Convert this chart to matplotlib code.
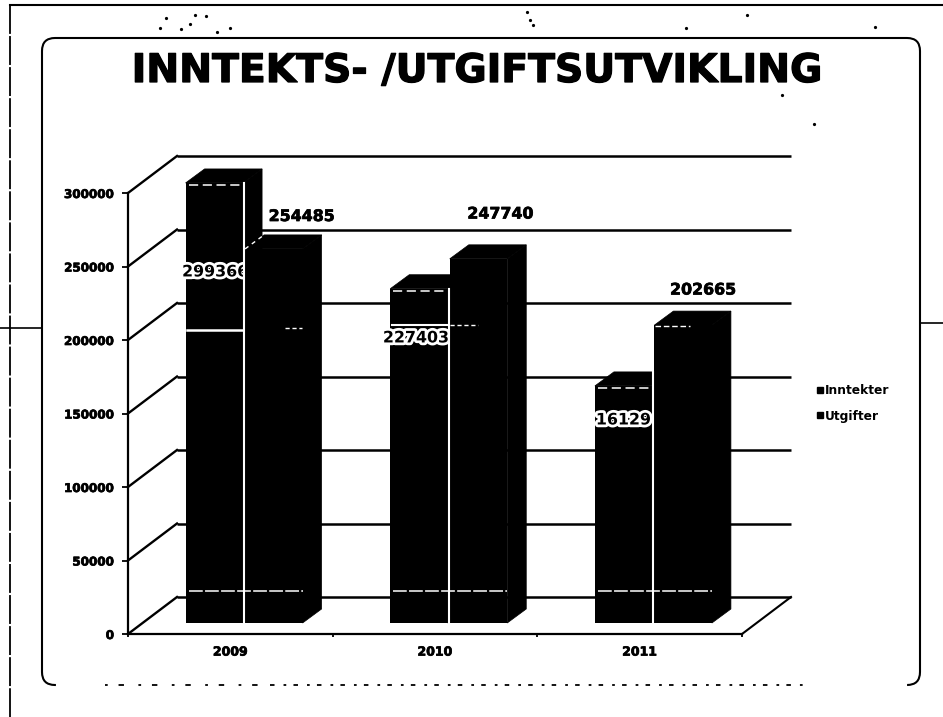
import matplotlib
matplotlib.use("Agg")
import matplotlib.pyplot as plt
import matplotlib.patheffects as pe
from matplotlib.lines import Line2D
from matplotlib.patches import Polygon, FancyBboxPatch
from matplotlib.transforms import Affine2D

# ---- data ----
years = ["2009", "2010", "2011"]
inntekter = [299366, 227403, 161290]
utgifter = [254485, 247740, 202665]
inntekter_labels = ["299366", "227403", "16129"]
utgifter_labels = ["254485", "247740", "202665"]
y_ticks = [0, 50000, 100000, 150000, 200000, 250000, 300000]
series_names = ["Inntekter", "Utgifter"]
title_text = "INNTEKTS- /UTGIFTSUTVIKLING"

# ---- geometry (pixels) ----
W, H = 943, 717
DPI = 100
AX_L, AX_R, AX_T, AX_B = 128, 742, 193, 634
WALL_DX, WALL_DY = 49, 37
BAR_DX, BAR_DY = 19, 14
SX = 3 / (AX_R - AX_L)        # category units per pixel
SY = 300000 / (AX_B - AX_T)   # value units per pixel
BASE = 11 * SY
BAR_W = 57.5 * SX
OFF1, OFF2 = -16 * SX, 43.5 * SX
heavy = [pe.withStroke(linewidth=0.5, foreground="black")]

fig = plt.figure(figsize=(W / DPI, H / DPI), dpi=DPI, facecolor="white")

# ---- pixel overlay for frame and title ----
bg = fig.add_axes([0, 0, 1, 1], zorder=0)
bg.set_xlim(0, W)
bg.set_ylim(H, 0)
bg.axis("off")
bg.add_patch(FancyBboxPatch((42, 38), 878, 647, boxstyle="round,pad=0,rounding_size=13",
                            fc="white", ec="black", lw=1.5))
# broken lower edge of the panel (scan artefact)
bg.plot([58, 905], [685, 685], color="white", lw=3, zorder=3)
bg.plot([105, 265], [685, 685], color="black", lw=1.3, ls=(0, (1.5, 6, 3, 8)), zorder=4)
bg.plot([270, 805], [685, 685], color="black", lw=1.3, ls=(0, (2.5, 5, 1.5, 4)), zorder=4)
bg.plot([10, 10], [5, H], color="black", lw=1.3, ls=(0, (16, 1.2)))
bg.plot([10, W], [5, 5], color="black", lw=1.5)
bg.plot([0, 42], [328, 328], color="black", lw=1.2)
bg.plot([920, W], [323, 323], color="black", lw=1.2)
bg.text(477, 71, title_text, ha="center", va="center", fontsize=28.3,
        fontweight="bold", family="DejaVu Sans", color="black",
        path_effects=[pe.withStroke(linewidth=0.9, foreground="black")])
specks_x = [166, 195, 206, 160, 181, 190, 217, 230, 527, 530, 533, 686, 747, 875, 782, 814]
specks_y = [18, 15, 16, 28, 29, 24, 32, 28, 12, 20, 25, 28, 15, 27, 95, 124]
bg.plot(specks_x, specks_y, ls="none", marker="o", ms=1.3, color="black")

# ---- value axes: front plane of the 3-D box ----
ax = fig.add_axes([AX_L / W, 1 - AX_B / H, (AX_R - AX_L) / W, (AX_B - AX_T) / H],
                  zorder=2)
ax.patch.set_alpha(0)
ax.set_xlim(-0.5, 2.5)
ax.set_ylim(0, 300000)
for s in ("top", "right"):
    ax.spines[s].set_visible(False)
for s in ("left", "bottom"):
    ax.spines[s].set_linewidth(1.6)
ax.set_yticks(y_ticks)
ax.set_xticks([-0.5, 0.5, 1.5, 2.5])
ax.set_xticklabels(["", "", "", ""])
ax.tick_params(axis="y", length=4, width=1.3, direction="out", pad=6)
ax.tick_params(axis="x", length=2, width=1.3)
for t in ax.get_yticklabels():
    t.set_fontweight("bold")
    t.set_fontsize(8.6)
    t.set_path_effects(heavy)
for i, yr in enumerate(years):
    ax.text(i, -12300, yr, ha="center", va="center", fontsize=9, fontweight="bold",
            path_effects=heavy)

# back wall, side wall and floor
wdx, wdy = WALL_DX * SX, WALL_DY * SY
wall = Affine2D().translate(WALL_DX * DPI / 100, WALL_DY * DPI / 100)
ax.hlines(y_ticks, -0.5, 2.5, color="black", lw=1.8, clip_on=False,
          transform=ax.transData + wall, zorder=1)
for v in y_ticks:
    ax.plot([-0.5, -0.5 + wdx], [v, v + wdy], color="black", lw=1.7, clip_on=False, zorder=1)
ax.plot([2.5, 2.5 + wdx], [0, wdy], color="black", lw=1.5, clip_on=False, zorder=1)

ddx, ddy = BAR_DX * SX, BAR_DY * SY


def depth(x, h, z):
    """top and side faces of one bar"""
    l, r = x - BAR_W / 2, x + BAR_W / 2
    t, b = BASE + h, BASE
    ax.add_patch(Polygon([(l, t), (l + ddx, t + ddy), (r + ddx, t + ddy), (r, t)],
                         fc="black", ec="black", lw=0.5, clip_on=False, zorder=z))
    ax.add_patch(Polygon([(r, t), (r + ddx, t + ddy), (r + ddx, b + ddy), (r, b)],
                         fc="black", ec="black", lw=0.5, clip_on=False, zorder=z))


halo = [pe.withStroke(linewidth=4, foreground="white")]
inner_y = [246300, 201400, 145600]
inner_dx = [1 * SX, -3 * SX, 0]
outer_y = [284000, 285700, 234000]
outer_dx = [28 * SX, 22 * SX, 20 * SX]
gap_extra = [0, 0, ddy]

for i in range(3):
    x1, x2 = i + OFF1, i + OFF2
    z = 3 + i * 4
    depth(x1, inntekter[i], z)
    ax.bar(x1, inntekter[i], BAR_W, bottom=BASE, color="black", zorder=z + 0.1, clip_on=False)
    top1 = BASE + inntekter[i]
    l1, r1 = x1 - BAR_W / 2, x1 + BAR_W / 2
    ax.plot([l1 + 3 * SX, r1], [top1 - 2 * SY] * 2, color="white", lw=1.1,
            ls=(0, (6, 3)), zorder=z + 0.2, clip_on=False)
    ax.text(x1 + inner_dx[i], inner_y[i], inntekter_labels[i], ha="center", va="center",
            fontsize=11.4, fontweight="bold", path_effects=halo, zorder=z + 0.3, clip_on=False)
    depth(x2, utgifter[i], z + 0.5)
    ax.bar(x2, utgifter[i], BAR_W, bottom=BASE, color="black", zorder=z + 0.6, clip_on=False)
    gap = (r1 + x2 - BAR_W / 2) / 2
    ax.plot([gap, gap], [BASE, top1 + gap_extra[i]],
            color="white", lw=1.5, zorder=z + 0.7, clip_on=False)
    ax.plot([l1 + 3 * SX, x2 + BAR_W / 2], [29000, 29000], color="white", lw=1.1,
            ls=(0, (9, 1.5)), zorder=z + 0.7, clip_on=False)
    ax.text(x2 + outer_dx[i], outer_y[i], utgifter_labels[i], ha="center", va="center",
            fontsize=11.4, fontweight="bold", zorder=z + 0.8, clip_on=False,
            path_effects=heavy)

# ghosts of the 200000 gridline on the bars
ax.plot([-0.5 + 59 * SX, -0.5 + 115 * SX], [207000, 207000], color="white", lw=1.8,
        zorder=3.25, clip_on=False)
ax.plot([-0.5 + 157 * SX, -0.5 + 174 * SX], [208000, 208000], color="white", lw=1,
        ls=(0, (3, 2)), zorder=3.75, clip_on=False)
ax.plot([-0.5 + 264 * SX, -0.5 + 320 * SX], [210000, 210000], color="white", lw=1.5,
        zorder=7.25, clip_on=False)
ax.plot([-0.5 + 322 * SX, -0.5 + 350 * SX], [210000, 210000], color="white", lw=1,
        ls=(0, (3, 2)), zorder=7.75, clip_on=False)
ax.plot([-0.5 + 527 * SX, -0.5 + 562 * SX], [209500, 209500], color="white", lw=1,
        ls=(0, (4, 2)), zorder=11.75, clip_on=False)
# white trace along the top-left edge of the 2009 Utgifter bar
x2_left = OFF2 - BAR_W / 2
ax.plot([x2_left, x2_left + ddx], [BASE + utgifter[0], BASE + utgifter[0] + ddy],
        color="white", lw=1, ls=(0, (3, 3)), zorder=3.7, clip_on=False)

# legend
handles = [Line2D([], [], ls="none", marker="s", ms=4.5, color="black", label=n)
           for n in series_names]
leg = fig.legend(handles=handles, loc="center left", bbox_to_anchor=(816 / W, 1 - 403.5 / H),
                 frameon=False, handletextpad=0.0, labelspacing=1.0, borderpad=0,
                 borderaxespad=0, handlelength=0.7,
                 prop={"weight": "bold", "size": 8.8})

fig.savefig("out.png", dpi=DPI, facecolor="white")
